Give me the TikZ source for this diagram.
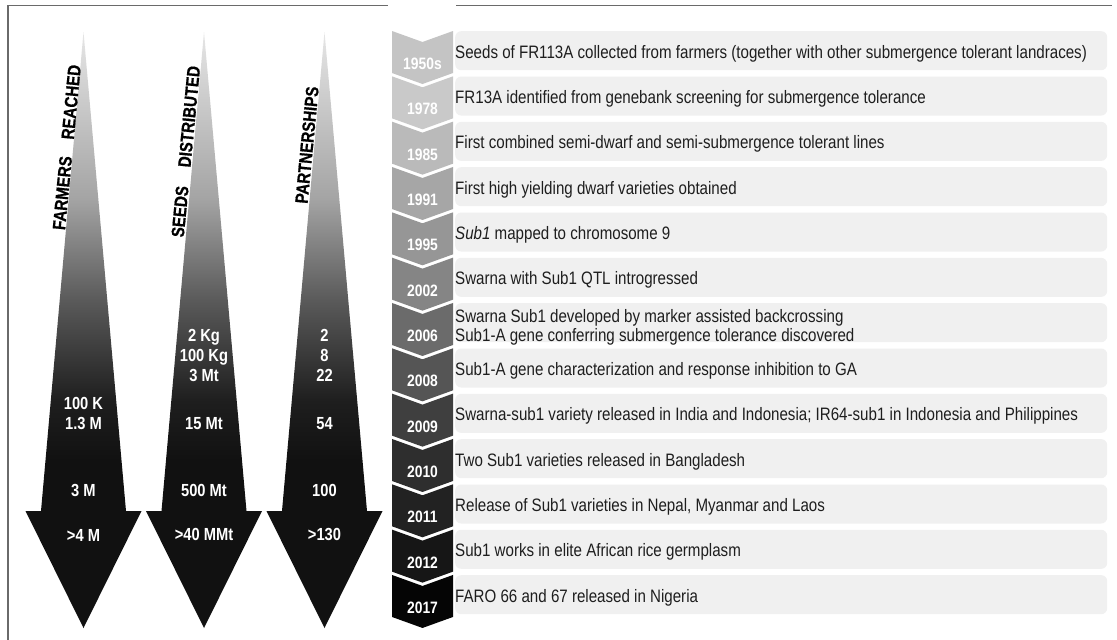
\documentclass[tikz,border=0pt]{standalone}
\usepackage{fontspec}
\setmainfont{Liberation Sans}
\newfontfamily\cond{Liberation Sans}[FakeStretch=0.84]
\newfontfamily\condheavy{Liberation Sans Bold}[FakeStretch=0.84, FakeBold=0.8]
\definecolor{framecol}{HTML}{6A6A6A}
\definecolor{boxfill}{HTML}{F0F0F0}
\definecolor{txtcol}{HTML}{1E1E1E}
\definecolor{ahead}{HTML}{111111}
\definecolor{afour}{HTML}{1E1E1E}
\definecolor{athree}{HTML}{5A5A5A}
\definecolor{atwo}{HTML}{A4A4A4}
\definecolor{atop}{HTML}{E6E6E6}
\definecolor{cA}{HTML}{C4C4C4}
\definecolor{cB}{HTML}{C9C9C9}
\definecolor{cC}{HTML}{BABABA}
\definecolor{cD}{HTML}{A6A6A6}
\definecolor{cE}{HTML}{969696}
\definecolor{cF}{HTML}{858585}
\definecolor{cG}{HTML}{6B6B6B}
\definecolor{cH}{HTML}{555555}
\definecolor{cI}{HTML}{3F3F3F}
\definecolor{cJ}{HTML}{2E2E2E}
\definecolor{cK}{HTML}{222222}
\definecolor{cL}{HTML}{161616}
\definecolor{cM}{HTML}{050505}
\pgfdeclareverticalshading{arrowshade}{100bp}{color(0bp)=(ahead); color(39bp)=(ahead); color(44bp)=(afour); color(52.5bp)=(athree); color(61bp)=(atwo); color(75bp)=(atop); color(100bp)=(atop)}
\tikzset{
  boxtxt/.style={anchor=base west, inner sep=0pt, text=txtcol, font=\cond\fontsize{18}{19}\selectfont},
  yeartxt/.style={anchor=base, inner sep=0pt, text=white, font=\cond\bfseries\fontsize{16.5}{18}\selectfont},
  numtxt/.style={anchor=base, inner sep=0pt, text=white, font=\cond\bfseries\fontsize{17.5}{19}\selectfont},
  lbl/.style={inner sep=0pt, text=black, rotate=84.5, font=\condheavy\fontsize{18}{19}\selectfont},
  evbox/.style={fill=boxfill, draw=none, rounded corners=6pt, minimum width=652pt, minimum height=39pt, anchor=north west, inner sep=0pt},
  framestyle/.style={draw=framecol, line width=1.3pt},
}
\newcommand\droparrow[1]{%
  \shade[shading=arrowshade] (#1,32) -- (#1+42.5,511) -- (#1+58,511) -- (#1,628) -- (#1-58,511) -- (#1-42.5,511) -- cycle;}
\begin{document}
\begin{tikzpicture}[x=1pt,y=-1pt]
\useasboundingbox (0,0) rectangle (1117,640);
\fill[white] (0,0) rectangle (1117,640);
% frame
\draw[framestyle] (8,640) -- (8,5.5) -- (388,5.5);
\draw[framestyle] (456,5.5) -- (1112,5.5);
% arrows
\droparrow{83.5}
\droparrow{204}
\droparrow{324.5}
\node[lbl] (lab1) at (66.8,147.3) {FARMERS\hspace{17pt}REACHED};
\node[lbl] (lab2) at (185.8,151.5) {SEEDS\hspace{19pt}DISTRIBUTED};
\node[lbl] (lab3) at (307,145) {PARTNERSHIPS};
% arrow 1 numbers
\node[numtxt] (n1a) at (83.5,409.3) {100 K};
\node[numtxt] (n1b) at (83.5,429.3) {1.3 M};
\node[numtxt] (n1c) at (83.5,496.3) {3 M};
\node[numtxt] (n1d) at (83.5,541.3) {>4 M};
% arrow 2 numbers
\node[numtxt] (n2a) at (204,341.3) {2 Kg};
\node[numtxt] (n2b) at (204,361.3) {100 Kg};
\node[numtxt] (n2c) at (204,381.3) {3 Mt};
\node[numtxt] (n2d) at (204,429.3) {15 Mt};
\node[numtxt] (n2e) at (204,496.3) {500 Mt};
\node[numtxt] (n2f) at (204,540.3) {>40 MMt};
% arrow 3 numbers
\node[numtxt] (n3a) at (324.5,341.3) {2};
\node[numtxt] (n3b) at (324.5,361.3) {8};
\node[numtxt] (n3c) at (324.5,381.3) {22};
\node[numtxt] (n3d) at (324.5,429.3) {54};
\node[numtxt] (n3e) at (324.5,496.3) {100};
\node[numtxt] (n3f) at (324.5,540.3) {>130};
% chevrons, years and boxes
\foreach \i/\yr/\col in {0/1950s/cA,1/1978/cB,2/1985/cC,3/1991/cD,4/1995/cE,5/2002/cF,6/2006/cG,7/2008/cH,8/2009/cI,9/2010/cJ,10/2011/cK,11/2012/cL,12/2017/cM}{
  \pgfmathsetmacro\yy{31+45.33*\i}
  \fill[\col] (392,\yy) -- (422.5,\yy+11) -- (453,\yy) -- (453,\yy+42) -- (422.5,\yy+53) -- (392,\yy+42) -- cycle;
  \node[yeartxt] (yr\i) at (422.5,\yy+38.5) {\yr};
  \node[evbox] (box\i) at (455,\yy) {};
}
\node[boxtxt] (t0) at (455,58) {Seeds of FR113A collected from farmers (together with other submergence tolerant landraces)};
\node[boxtxt] (t1) at (455,103.3) {FR13A identified from genebank screening for submergence tolerance};
\node[boxtxt] (t2) at (455,148.7) {First combined semi-dwarf and semi-submergence tolerant lines};
\node[boxtxt] (t3) at (455,194) {First high yielding dwarf varieties obtained};
\node[boxtxt] (t4) at (455,239.3) {\textit{Sub1} mapped to chromosome 9};
\node[boxtxt] (t5) at (455,284.7) {Swarna with Sub1 QTL introgressed};
\node[boxtxt, anchor=north west, align=left] (t6) at (455,308.9) {Swarna Sub1 developed by marker assisted backcrossing\\Sub1-A gene conferring submergence tolerance discovered};
\node[boxtxt] (t7) at (455,375.3) {Sub1-A gene characterization and response inhibition to GA};
\node[boxtxt] (t8) at (455,420.7) {Swarna-sub1 variety released in India and Indonesia; IR64-sub1 in Indonesia and Philippines};
\node[boxtxt] (t9) at (455,466) {Two Sub1 varieties released in Bangladesh};
\node[boxtxt] (t10) at (455,511.3) {Release of Sub1 varieties in Nepal, Myanmar and Laos};
\node[boxtxt] (t11) at (455,556.7) {Sub1 works in elite African rice germplasm};
\node[boxtxt] (t12) at (455,602) {FARO 66 and 67 released in Nigeria};
\end{tikzpicture}
\end{document}
